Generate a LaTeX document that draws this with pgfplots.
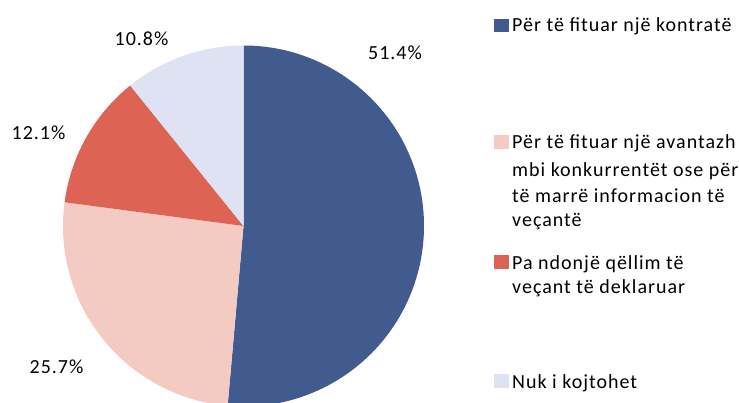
\documentclass[border=0pt]{standalone}
\usepackage{fontspec}
\setmainfont[LetterSpace=5]{Carlito}
\usepackage{pgfplots}
\usepackage{pgfplotstable}
\pgfplotsset{compat=1.18}
\definecolor{c1}{HTML}{415B8F}
\definecolor{c2}{HTML}{F4CBC2}
\definecolor{c3}{HTML}{DD6454}
\definecolor{c4}{HTML}{DFE2F3}
\pgfplotstableread{
value color lx ly
51.4 c1 395 59.5
25.7 c2 56.5 373
12.1 c3 38.5 139.5
10.8 c4 141.5 46
}\piedata
\begin{document}
\begin{tikzpicture}
\fontsize{20}{26}\selectfont
\begin{axis}[x=1pt,y=1pt,xmin=0,xmax=739,ymin=0,ymax=402,
  scale only axis,hide axis,clip=false,anchor=origin,at={(0,0)}]
\pgfplotsextra{%
  \xdef\startang{90}%
  \pgfplotstableforeachcolumnelement{value}\of\piedata\as\val{%
    \pgfplotstablegetelem{\pgfplotstablerow}{color}\of\piedata
    \edef\col{\pgfplotsretval}%
    \pgfmathsetmacro\endang{\startang-3.6*\val}%
    \fill[\col] (axis cs:243.5,176) -- ++(\startang:180.5pt)
      arc[start angle=\startang,end angle=\endang,radius=180.5pt] -- cycle;
    \pgfplotstablegetelem{\pgfplotstablerow}{lx}\of\piedata
    \edef\lx{\pgfplotsretval}%
    \pgfplotstablegetelem{\pgfplotstablerow}{ly}\of\piedata
    \edef\ly{\pgfplotsretval}%
    \node[anchor=base,inner sep=0pt,font=\fontsize{20}{24}\selectfont] at (axis cs:\lx,402-\ly) {\val\%};
    \xdef\startang{\endang}%
  }%
  % legend
  \fill[c1] (axis cs:494,402-19) rectangle (axis cs:509,402-32);
  \fill[c2] (axis cs:494,402-135) rectangle (axis cs:509,402-149);
  \fill[c3] (axis cs:494,402-255) rectangle (axis cs:509,402-269);
  \fill[c4] (axis cs:494,402-374) rectangle (axis cs:509,402-388);
  \node[anchor=base west,inner sep=0pt] at (axis cs:512,402-31.7) {Për të fituar një kontratë};
  \node[anchor=base west,inner sep=0pt] at (axis cs:512,402-149) {Për të fituar një avantazh};
  \node[anchor=base west,inner sep=0pt] at (axis cs:512,402-176.5) {mbi konkurrentët ose për};
  \node[anchor=base west,inner sep=0pt] at (axis cs:512,402-203) {të marrë informacion të};
  \node[anchor=base west,inner sep=0pt] at (axis cs:512,402-227) {veçantë};
  \node[anchor=base west,inner sep=0pt] at (axis cs:512,402-269.5) {Pa ndonjë qëllim të};
  \node[anchor=base west,inner sep=0pt] at (axis cs:512,402-293) {veçant të deklaruar};
  \node[anchor=base west,inner sep=0pt] at (axis cs:512,402-388) {Nuk i kojtohet};
}
\end{axis}
\pgfresetboundingbox
\useasboundingbox (0,0) rectangle (739pt,402pt);
\end{tikzpicture}
\end{document}
